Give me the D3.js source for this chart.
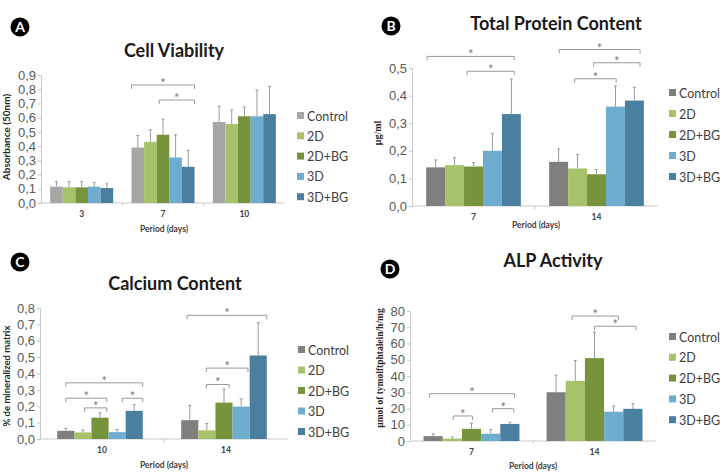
<!DOCTYPE html>
<html>
<head>
<meta charset="utf-8">
<script src="https://cdn.jsdelivr.net/npm/d3@7"></script>
<style>
  body { margin: 0; background: #fff; }
  svg { display: block; font-family: Lato, "Open Sans", sans-serif; }
</style>
</head>
<body>
<svg id="chart" width="726" height="475"></svg>
<script>
// series names shared by every panel
const groups = ['Control', '2D', '2D+BG', '3D', '3D+BG'];

// A - cell viability
const viabilityDays = ['3', '7', '10'];
const viabilityMean = [[0.115, 0.11, 0.11, 0.115, 0.105], [0.39, 0.43, 0.48, 0.32, 0.255], [0.57, 0.555, 0.61, 0.61, 0.625]];
const viabilityErr = [[0.035, 0.04, 0.04, 0.03, 0.03], [0.085, 0.085, 0.11, 0.16, 0.115], [0.11, 0.1, 0.065, 0.185, 0.195]];
const viabilityTicks = [0, 0.1, 0.2, 0.3, 0.4, 0.5, 0.6, 0.7, 0.8, 0.9];
const viabilitySig = [[1, 0, 5, 0.83], [1, 2.2, 5, 0.724]];

// B - total protein
const proteinDays = ['7', '14'];
const proteinMean = [[0.14, 0.148, 0.143, 0.2, 0.333], [0.16, 0.136, 0.115, 0.36, 0.382]];
const proteinErr = [[0.027, 0.027, 0.014, 0.062, 0.127], [0.047, 0.051, 0.017, 0.075, 0.048]];
const proteinTicks = [0, 0.1, 0.2, 0.3, 0.4, 0.5];
const proteinSig = [[0, 0.05, 4.65, 0.542], [0, 2.16, 4.65, 0.488], [1, 0.53, 4.8, 0.567], [1, 2.35, 4.8, 0.519], [1, 1.35, 3.54, 0.461]];

// C - calcium
const calciumDays = ['10', '14'];
const calciumMean = [[0.05, 0.04, 0.13, 0.042, 0.172], [0.115, 0.053, 0.222, 0.198, 0.51]];
const calciumErr = [[0.015, 0.015, 0.03, 0.016, 0.038], [0.09, 0.042, 0.083, 0.047, 0.2]];
const calciumTicks = [0, 0.1, 0.2, 0.3, 0.4, 0.5, 0.6, 0.7, 0.8];
const calciumSig = [[0, 0.5, 5.0, 0.343], [0, 0.5, 2.9, 0.249], [0, 1.6, 2.9, 0.19], [0, 3.8, 5.0, 0.249], [1, 0.35, 5.0, 0.755], [1, 1.47, 3.9, 0.433], [1, 1.47, 2.8, 0.333]];

// D - ALP activity
const alpDays = ['7', '14'];
const alpMean = [[3, 1.5, 7.5, 4.5, 10.5], [30, 37, 51, 18, 19.8]];
const alpErr = [[1.5, 1, 3.5, 2.5, 1], [10.5, 12.5, 16, 3.5, 3.2]];
const alpTicks = [0, 10, 20, 30, 40, 50, 60, 70, 80];
const alpSig = [[0, 0.3, 4.75, 29.1], [0, 1.55, 2.55, 15.4], [0, 3.6, 4.7, 19.9], [1, 1.33, 3.74, 76.9], [1, 2.5, 4.67, 70.6]];

const BAR_COLORS = ['#7f7f7f', '#a7c26a', '#77933c', '#6fadd0', '#4b7f9f'];
const AXIS_COLOR = '#c8c8c8';
const TICK_TEXT = '#595959';
const SIG_COLOR = '#9a9a9a';

const svg = d3.select('#chart');

function drawPanel(p) {
    const g = svg.append('g');
    const colors = BAR_COLORS.slice();
    if (p.controlColor) colors[0] = p.controlColor;

    const y = d3.scaleLinear().domain([0, p.max]).range([p.bottom, p.top]);
    const x0 = d3.scaleBand().domain(p.days).range([p.left, p.right]);
    const groupW = x0.step() * p.groupFrac;
    const pad = (x0.step() - groupW) / 2 + (p.shift || 0);
    const x1 = d3.scaleBand().domain(groups).range([0, groupW]);

    // y axis
    const yAxis = d3.axisLeft(y).tickValues(p.ticks).tickSize(3)
        .tickFormat(d => p.fmt ? d3.format('.1f')(d).replace('.', ',') : d);
    const ya = g.append('g').attr('transform', `translate(${p.left},0)`).call(yAxis);
    ya.select('.domain').attr('stroke', AXIS_COLOR);
    ya.selectAll('.tick line').attr('stroke', AXIS_COLOR);
    ya.selectAll('.tick text').attr('fill', TICK_TEXT).style('font-size', '13px').attr('x', -5);

    // x axis with boundary ticks
    g.append('line')
        .attr('x1', p.left).attr('x2', p.right)
        .attr('y1', p.bottom).attr('y2', p.bottom)
        .attr('stroke', AXIS_COLOR);
    g.selectAll('.sep')
        .data(p.days.slice(1))
        .enter().append('line')
        .attr('x1', d => x0(d)).attr('x2', d => x0(d))
        .attr('y1', p.bottom).attr('y2', p.bottom + 3)
        .attr('stroke', AXIS_COLOR);
    g.selectAll('.xlabel')
        .data(p.days)
        .enter().append('text')
        .attr('x', d => x0(d) + x0.step() / 2)
        .attr('y', p.bottom + p.xLabelDy)
        .attr('text-anchor', 'middle')
        .attr('fill', '#404040')
        .style('font-size', '8.5px')
        .style('font-weight', '700')
        .text(d => d);

    g.append('text')
        .attr('x', p.periodX)
        .attr('y', p.bottom + p.periodDy)
        .attr('text-anchor', 'middle')
        .attr('fill', '#404040')
        .style('font-size', '8.5px')
        .style('font-weight', '700')
        .text('Period (days)');

    // bars + error bars
    p.days.forEach((day, di) => {
        const gg = g.append('g').attr('transform', `translate(${x0(day) + pad},0)`);
        const rows = groups.map((name, i) => ({ name, i, v: p.mean[di][i], e: p.err[di][i] }));
        gg.selectAll('rect')
            .data(rows)
            .enter().append('rect')
            .attr('x', d => x1(d.name))
            .attr('width', x1.bandwidth())
            .attr('y', d => y(d.v))
            .attr('height', d => p.bottom - y(d.v))
            .attr('fill', d => colors[d.i]);
        gg.selectAll('.err')
            .data(rows)
            .enter().append('line')
            .attr('x1', d => x1(d.name) + x1.bandwidth() / 2)
            .attr('x2', d => x1(d.name) + x1.bandwidth() / 2)
            .attr('y1', d => y(d.v))
            .attr('y2', d => y(d.v + d.e))
            .attr('stroke', '#9a9a9a');
        gg.selectAll('.cap')
            .data(rows)
            .enter().append('line')
            .attr('x1', d => x1(d.name) + x1.bandwidth() / 2 - 1.5)
            .attr('x2', d => x1(d.name) + x1.bandwidth() / 2 + 1.5)
            .attr('y1', d => y(d.v + d.e))
            .attr('y2', d => y(d.v + d.e))
            .attr('stroke', '#9a9a9a');
    });

    // significance brackets
    p.sig.forEach(s => {
        const day = p.days[s[0]];
        const bx = d3.scaleLinear().domain([0, 5]).range([x0(day) + pad, x0(day) + pad + groupW]);
        const xa = bx(s[1]), xb = bx(s[2]), yy = y(s[3]);
        g.append('path')
            .attr('d', `M${xa},${yy + 4}V${yy}H${xb}V${yy + 4}`)
            .attr('fill', 'none')
            .attr('stroke', SIG_COLOR);
        g.append('text')
            .attr('x', (xa + xb) / 2)
            .attr('y', yy + 3)
            .attr('text-anchor', 'middle')
            .attr('fill', '#7a7a7a')
            .style('font-size', '13px')
            .text('*');
    });

    // legend
    const lg = g.append('g').attr('transform', `translate(${p.legendX},${p.legendY})`);
    const rowH = p.legendStep;
    lg.selectAll('rect')
        .data(groups)
        .enter().append('rect')
        .attr('x', 0)
        .attr('y', (d, i) => i * rowH - 4)
        .attr('width', 7).attr('height', 7)
        .attr('fill', (d, i) => colors[i]);
    lg.selectAll('text')
        .data(groups)
        .enter().append('text')
        .attr('x', 10)
        .attr('y', (d, i) => i * rowH + 4.5)
        .attr('fill', '#404040')
        .style('font-size', '12.5px')
        .text(d => d);

    // y axis title
    g.append('text')
        .attr('transform', `translate(${p.yTitleX},${p.yTitleY}) rotate(-90)`)
        .attr('text-anchor', 'middle')
        .attr('fill', '#262626')
        .style('font-size', p.yTitleSize)
        .style('font-weight', '700')
        .style('font-family', p.yTitleSerif ? '"Liberation Serif", "DejaVu Serif", serif' : null)
        .text(p.yTitle);

    // chart title
    g.append('text')
        .attr('x', p.titleX)
        .attr('y', p.titleY)
        .attr('text-anchor', 'middle')
        .attr('fill', '#1a1a1a')
        .style('font-size', '18px')
        .style('font-weight', '700')
        .text(p.title);

    // panel letter badge
    g.append('circle')
        .attr('cx', p.badgeX).attr('cy', p.badgeY).attr('r', 9.5)
        .attr('fill', '#000');
    g.append('text')
        .attr('x', p.badgeX).attr('y', p.badgeY + 5)
        .attr('text-anchor', 'middle')
        .attr('fill', '#fff')
        .style('font-size', '14px')
        .style('font-weight', '700')
        .text(p.letter);
}

drawPanel({
    letter: 'A', badgeX: 20, badgeY: 27,
    title: 'Cell Viability', titleX: 174, titleY: 57,
    days: viabilityDays, mean: viabilityMean, err: viabilityErr, ticks: viabilityTicks, sig: viabilitySig,
    max: 0.9, fmt: true, controlColor: '#a6a6a6',
    left: 41, right: 285, top: 75, bottom: 203, groupFrac: 0.775,
    xLabelDy: 14, periodX: 164, periodDy: 29,
    yTitle: 'Absorbance (50nm)', yTitleX: 10, yTitleY: 137, yTitleSize: '10px',
    legendX: 297, legendY: 116, legendStep: 20.3
});

drawPanel({
    letter: 'B', badgeX: 391, badgeY: 26,
    title: 'Total Protein Content', titleX: 556, titleY: 30,
    days: proteinDays, mean: proteinMean, err: proteinErr, ticks: proteinTicks, sig: proteinSig,
    max: 0.5, fmt: true,
    left: 412, right: 658, top: 68, bottom: 206, groupFrac: 0.77,
    xLabelDy: 14, periodX: 536, periodDy: 22,
    yTitle: 'μg/ml', yTitleX: 381, yTitleY: 133, yTitleSize: '10px', yTitleSerif: true,
    legendX: 669, legendY: 93, legendStep: 21
});

drawPanel({
    letter: 'C', badgeX: 20, badgeY: 262,
    title: 'Calcium Content', titleX: 175, titleY: 290,
    days: calciumDays, mean: calciumMean, err: calciumErr, ticks: calciumTicks, sig: calciumSig,
    max: 0.8, fmt: true,
    left: 40, right: 288, top: 308, bottom: 439, groupFrac: 0.69, shift: -2,
    xLabelDy: 14, periodX: 164, periodDy: 29,
    yTitle: '% de mineralized matrix', yTitleX: 10, yTitleY: 376, yTitleSize: '9.5px',
    legendX: 298, legendY: 350, legendStep: 20.5
});

drawPanel({
    letter: 'D', badgeX: 390, badgeY: 269,
    title: 'ALP Activity', titleX: 553, titleY: 267,
    days: alpDays, mean: alpMean, err: alpErr, ticks: alpTicks, sig: alpSig,
    max: 80, fmt: false,
    left: 410, right: 656, top: 311, bottom: 441, groupFrac: 0.78,
    xLabelDy: 14, periodX: 533, periodDy: 28,
    yTitle: 'μmol of tymolftphtalein/h/mg', yTitleX: 383, yTitleY: 368, yTitleSize: '9.5px', yTitleSerif: true,
    legendX: 669, legendY: 337, legendStep: 20.8
});
</script>
</body>
</html>
